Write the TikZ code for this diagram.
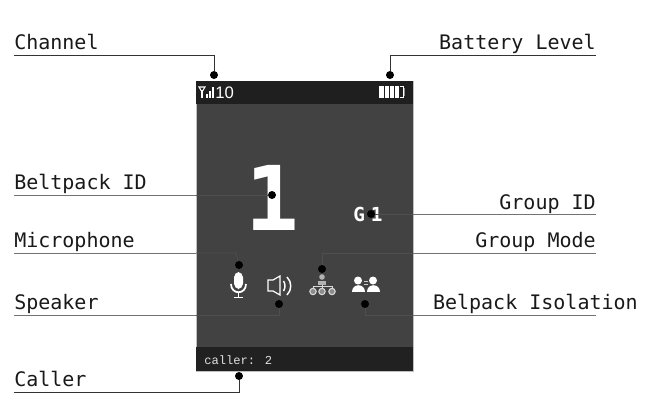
\documentclass[tikz,border=0pt]{standalone}
\usepackage{fontspec}
\setmainfont{Liberation Sans}
\newfontfamily\lblfont{DejaVu Sans Mono}
\newfontfamily\lcdfont{Liberation Mono}
\tikzset{
  lbl/.style={font=\lblfont\fontsize{15}{15}\selectfont,text=black!90,inner sep=0pt},
  lblL/.style={lbl,anchor=base west},
  lblR/.style={lbl,anchor=base east},
  dotmark/.style={circle,fill=black,minimum size=6pt,inner sep=0pt},
  outer/.style={draw=black!55,line width=0.75pt},
  inside/.style={draw=black!69,line width=0.5pt},
  icon/.style={draw=white,line width=0.9pt,fill=none},
}
\begin{document}
\begin{tikzpicture}[x=0.75pt,y=-0.75pt]
\useasboundingbox (0,0) rectangle (647,404);
\fill[white] (0,0) rectangle (647,404);
% screen
\draw[fill=black!74,draw=black!25,line width=0.5pt] (196,81) rectangle (413,371);
\fill[black!88] (196,81) rectangle (413,104);
\fill[black!87] (196,347) rectangle (413,371);

% labels
\node[lblL] (lchannel) at (14,49) {Channel};
\node[lblR] (lbattery) at (596,49) {Battery Level};
\node[lblL] (lbelt) at (14,189) {Beltpack ID};
\node[lblR] (lgroupid) at (596,209) {Group ID};
\node[lblL] (lmic) at (14,247) {Microphone};
\node[lblR] (lgroupmode) at (596,247) {Group Mode};
\node[lblL] (lspeaker) at (14,309) {Speaker};
\node[lblR] (liso) at (638,309) {Belpack Isolation};
\node[lblL] (lcaller) at (14,386) {Caller};

% big texts
\node[font=\lblfont\bfseries\fontsize{67}{67}\selectfont,text=white,inner sep=0pt,anchor=base] (bigid) at (272,230) {1};
\node[font=\lblfont\bfseries\fontsize{14.5}{15}\selectfont,text=white,inner sep=0pt,anchor=base west] (gid) at (353,221) {G\hspace{4.5pt}1};
\node[font=\fontsize{12.5}{13}\selectfont,text=white,inner sep=0pt,anchor=base west] (chnum) at (215,98) {10};
\node[font=\lcdfont\fontsize{9.1}{10}\selectfont,text=black!12,inner sep=0pt,anchor=base west] (callertxt) at (204,364) {caller: 2};

% dots
\node[dotmark] (dchannel) at (214,75) {};
\node[dotmark] (dbattery) at (390,75) {};
\node[dotmark] (dbelt) at (272,195) {};
\node[dotmark] (dgroupid) at (371,214) {};
\node[dotmark] (dmic) at (239,265) {};
\node[dotmark] (dgroupmode) at (322,269) {};
\node[dotmark] (dspeaker) at (279,304) {};
\node[dotmark] (diso) at (365,304) {};
\node[dotmark] (dcaller) at (239,376) {};

% connector way-points
\coordinate (cha) at (14,55); \coordinate (chb) at (214,55);
\coordinate (baa) at (596,55); \coordinate (bab) at (390,55);
\coordinate (bea) at (14,195); \coordinate (beb) at (196,195);
\coordinate (gia) at (596,214); \coordinate (gib) at (413,214);
\coordinate (mia) at (14,253); \coordinate (mib) at (196,253); \coordinate (mic) at (236,253);
\coordinate (gma) at (596,253); \coordinate (gmb) at (413,253); \coordinate (gmc) at (322,253);
\coordinate (spa) at (14,315); \coordinate (spb) at (196,315); \coordinate (spc) at (279,315);
\coordinate (isa) at (596,315); \coordinate (isb) at (413,315); \coordinate (isc) at (365,315);
\coordinate (caa) at (14,392); \coordinate (cab) at (239,392);

% connectors
\draw[outer,draw=black!80] (cha) -- (chb) -- (dchannel);
\draw[outer,draw=black!80] (baa) -- (bab) -- (dbattery);
\draw[outer] (bea) -- (beb);
\draw[inside] (beb) -- (dbelt);
\draw[outer] (gia) -- (gib);
\draw[inside] (gib) -- (dgroupid);
\draw[outer] (mia) -- (mib);
\draw[inside] (mib) -- (mic) -- (dmic);
\draw[outer] (gma) -- (gmb);
\draw[inside] (gmb) -- (gmc) -- (dgroupmode);
\draw[outer] (spa) -- (spb);
\draw[inside] (spb) -- (spc) -- (dspeaker);
\draw[outer] (isa) -- (isb);
\draw[inside] (isb) -- (isc) -- (diso);
\draw[outer,draw=black!80] (caa) -- (cab) -- (dcaller);

% signal icon
\draw[white,line width=0.8pt] (199,87) -- (205,87) -- (202,92) -- cycle;
\draw[white,line width=1pt] (202,90) -- (202,98);
\fill[white] (206,94) rectangle (207.5,98);
\fill[white] (209,91) rectangle (210.5,98);
\fill[white] (212,87) rectangle (213.5,98);

% battery icon
\fill[white] (379,86) rectangle (403,98);
\foreach \gx in {384,389,394,399} \fill[black!88] (\gx,86) rectangle (\gx+1,98);
\fill[black!88] (400,87) rectangle (403,97);
\draw[white,line width=0.5pt] (400,86.5) -- (403,86.5) -- (403,97.5) -- (400,97.5);
\draw[black!45,line width=0.7pt] (404.5,88) -- (404.5,96);

% microphone icon
\fill[white,rounded corners=4pt] (234,272) rectangle (243,289);
\draw[white,line width=1.3pt] (231,284) .. controls (231,295) and (246,295) .. (246,284);
\draw[white,line width=1.4pt] (238.5,293) -- (238.5,297);
\draw[white,line width=1.2pt] (234,297.5) -- (243,297.5);

% speaker icon
\draw[icon,line join=miter] (268,280) -- (273,280) -- (280,276) -- (280,295) -- (273,291) -- (268,291) -- cycle;
\draw[icon,line width=1.1pt] (283.5,281) .. controls (285.5,284) and (285.5,288) .. (283.5,291);
\draw[icon,line width=1.1pt] (287,277) .. controls (292,282) and (292,290) .. (287,295);

% network icon
\fill[black!30] (322,277) circle (2.8);
\fill[black!30] (318,280.5) rectangle (326,285);
\draw[black!15,line width=0.6pt] (322,285) -- (322,291);
\draw[black!15,line width=0.7pt] (313,290) -- (313,286.5) -- (332,286.5) -- (332,290);
\foreach \nx in {313,322,332} {
  \draw[black!15,line width=0.8pt,fill=black!45] (\nx,291.5) circle (3.2);
}

% isolation icon
\foreach \px in {358,373} {
  \fill[white] (\px,280.5) circle (4);
  \fill[white] (\px-6.5,291.5) .. controls (\px-6.5,283) and (\px+6.5,283) .. (\px+6.5,291.5) -- cycle;
}
\draw[black!20,line width=0.5pt] (364,281.5) -- (368,281.5);
\draw[black!20,line width=0.5pt] (364,284) -- (368,284);
\end{tikzpicture}
\end{document}
